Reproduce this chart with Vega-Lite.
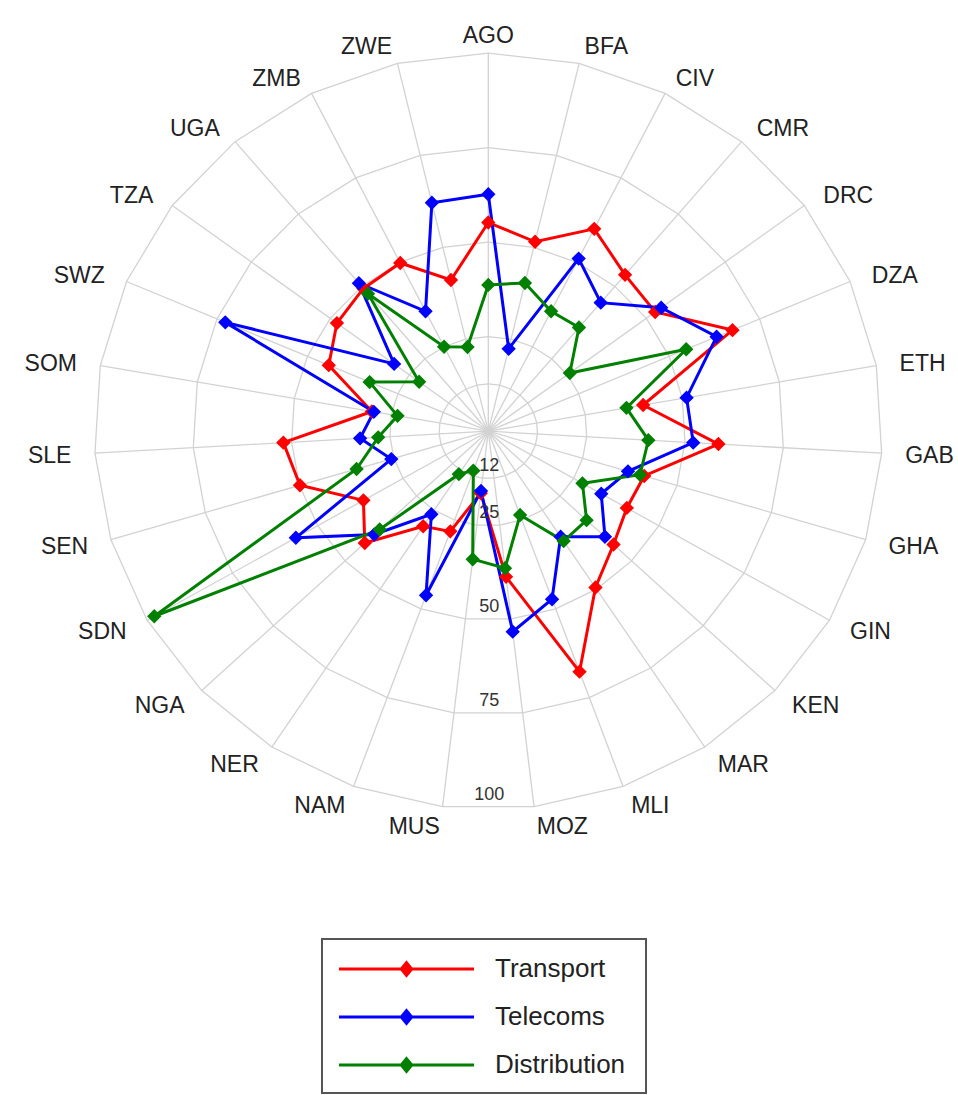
{
  "$schema": "https://vega.github.io/schema/vega-lite/v6.json",
  "width": 958,
  "height": 1095,
  "autosize": {"type": "none"},
  "padding": 0,
  "background": "white",
  "config": {"view": {"stroke": null}, "font": "Liberation Sans"},
  "datasets": {
    "ctry": [
      {"c": "AGO", "Transport": 55.2, "Telecoms": 62.7, "Distribution": 38.7},
      {"c": "BFA", "Transport": 51.5, "Telecoms": 22.4, "Distribution": 40.3},
      {"c": "CIV", "Transport": 59.9, "Telecoms": 51.1, "Distribution": 35.5},
      {"c": "CMR", "Transport": 54.0, "Telecoms": 44.4, "Distribution": 35.8},
      {"c": "DRC", "Transport": 52.8, "Telecoms": 54.7, "Distribution": 25.8},
      {"c": "DZA", "Transport": 67.5, "Telecoms": 63.1, "Distribution": 54.7},
      {"c": "ETH", "Transport": 39.9, "Telecoms": 51.1, "Distribution": 35.6},
      {"c": "GAB", "Transport": 58.5, "Telecoms": 52.1, "Distribution": 40.7},
      {"c": "GHA", "Transport": 41.3, "Telecoms": 37.0, "Distribution": 40.2},
      {"c": "GIN", "Transport": 40.6, "Telecoms": 33.1, "Distribution": 27.6},
      {"c": "KEN", "Transport": 43.7, "Telecoms": 40.7, "Distribution": 34.3},
      {"c": "MAR", "Transport": 49.5, "Telecoms": 33.4, "Distribution": 34.8},
      {"c": "MLI", "Transport": 67.7, "Telecoms": 47.3, "Distribution": 23.6},
      {"c": "MOZ", "Transport": 38.8, "Telecoms": 53.4, "Distribution": 36.5},
      {"c": "MUS", "Transport": 16.5, "Telecoms": 15.9, "Distribution": 34.1},
      {"c": "NAM", "Transport": 28.2, "Telecoms": 46.2, "Distribution": 11.1},
      {"c": "NER", "Transport": 30.1, "Telecoms": 26.3, "Distribution": 13.6},
      {"c": "NGA", "Transport": 43.1, "Telecoms": 39.8, "Distribution": 37.9},
      {"c": "SDN", "Transport": 36.6, "Telecoms": 56.4, "Distribution": 97.9},
      {"c": "SEN", "Transport": 49.9, "Telecoms": 25.7, "Distribution": 34.9},
      {"c": "SLE", "Transport": 52.1, "Telecoms": 32.6, "Distribution": 28.0},
      {"c": "SOM", "Transport": 30.0, "Telecoms": 29.5, "Distribution": 23.4},
      {"c": "SWZ", "Transport": 44.1, "Telecoms": 72.7, "Distribution": 32.8},
      {"c": "TZA", "Transport": 47.9, "Telecoms": 29.8, "Distribution": 21.9},
      {"c": "UGA", "Transport": 49.3, "Telecoms": 51.1, "Distribution": 47.5},
      {"c": "ZMB", "Transport": 49.8, "Telecoms": 35.5, "Distribution": 25.0},
      {"c": "ZWE", "Transport": 41.1, "Telecoms": 62.1, "Distribution": 22.9}
    ],
    "rings": [
      {"r": 12.5, "t": "12"},
      {"r": 25, "t": "25"},
      {"r": 50, "t": "50"},
      {"r": 75, "t": "75"},
      {"r": 100, "t": "100"}
    ]
  },
  "layer": [
    {
      "data": {"name": "ctry"},
      "transform": [
        {"window": [{"op": "row_number", "as": "n"}]},
        {"calculate": "(datum.n - 1) * 2 * PI / 27", "as": "a"},
        {"calculate": "[12.5, 25, 50, 75, 100]", "as": "rr"},
        {"flatten": ["rr"]},
        {"calculate": "datum.rr * sin(datum.a)", "as": "gx"},
        {"calculate": "datum.rr * cos(datum.a)", "as": "gy"}
      ],
      "mark": {"type": "line", "interpolate": "linear-closed", "color": "#d2d2d2", "strokeWidth": 1.3},
      "encoding": {
        "x": {"field": "gx", "type": "quantitative", "scale": {"domain": [-123.934, 119.213], "nice": false, "zero": false}, "axis": null},
        "y": {"field": "gy", "type": "quantitative", "scale": {"domain": [-175.608, 114.074], "nice": false, "zero": false}, "axis": null},
        "detail": {"field": "rr", "type": "nominal"},
        "order": {"field": "n", "type": "quantitative"}
      }
    },
    {
      "data": {"name": "ctry"},
      "transform": [
        {"window": [{"op": "row_number", "as": "n"}]},
        {"calculate": "(datum.n - 1) * 2 * PI / 27", "as": "a"},
        {"calculate": "100 * sin(datum.a)", "as": "ex"},
        {"calculate": "100 * cos(datum.a)", "as": "ey"}
      ],
      "mark": {"type": "rule", "color": "#d2d2d2", "strokeWidth": 1.3},
      "encoding": {
        "x": {"field": "ex", "type": "quantitative"},
        "y": {"field": "ey", "type": "quantitative"},
        "x2": {"datum": 0},
        "y2": {"datum": 0}
      }
    },
    {
      "data": {"name": "ctry"},
      "transform": [
        {"window": [{"op": "row_number", "as": "n"}]},
        {"calculate": "(datum.n - 1) * 2 * PI / 27", "as": "a"},
        {"fold": ["Transport", "Telecoms", "Distribution"], "as": ["s", "v"]},
        {"calculate": "datum.v * sin(datum.a)", "as": "px"},
        {"calculate": "datum.v * cos(datum.a)", "as": "py"}
      ],
      "layer": [
        {
          "mark": {"type": "line", "interpolate": "linear-closed", "strokeWidth": 3},
          "encoding": {
            "x": {"field": "px", "type": "quantitative"},
            "y": {"field": "py", "type": "quantitative"},
            "order": {"field": "n", "type": "quantitative"},
            "color": {
              "field": "s", "type": "nominal",
              "scale": {"domain": ["Transport", "Telecoms", "Distribution"], "range": ["#ff0000", "#0000ff", "#008000"]},
              "legend": {
                "orient": "none", "legendX": 322, "legendY": 939,
                "title": "\u00a0", "titleOrient": "right", "titlePadding": 6, "titleFontSize": 2,
                "symbolType": "M-5,0L5,0M0,-0.47L0.385,0L0,0.47L-0.385,0Z",
                "symbolSize": 729, "symbolStrokeWidth": 3, "symbolOffset": 54.5,
                "labelOffset": 73.5, "labelFontSize": 26, "labelFont": "Liberation Sans", "labelColor": "#222",
                "padding": 15, "rowPadding": 20, "strokeColor": "#555", "fillColor": "white",
                "encode": {
                  "symbols": {"update": {"fill": {"scale": "color", "field": "value"}, "stroke": {"scale": "color", "field": "value"}, "strokeWidth": {"value": 3}, "opacity": {"value": 1}}},
                  "legend": {"update": {"strokeWidth": {"value": 2}}}
                }
              }
            }
          }
        },
        {
          "mark": {"type": "point", "shape": "diamond", "filled": true, "size": 150, "strokeWidth": 1.5, "opacity": 1},
          "encoding": {
            "x": {"field": "px", "type": "quantitative"},
            "y": {"field": "py", "type": "quantitative"},
            "color": {"field": "s", "type": "nominal"},
            "stroke": {"field": "s", "type": "nominal", "scale": {"domain": ["Transport", "Telecoms", "Distribution"], "range": ["#ff0000", "#0000ff", "#008000"]}, "legend": null}
          }
        }
      ]
    },
    {
      "data": {"name": "ctry"},
      "transform": [
        {"window": [{"op": "row_number", "as": "n"}]},
        {"calculate": "(datum.n - 1) * 2 * PI / 27", "as": "a"},
        {"calculate": "106 * sin(datum.a)", "as": "lx"},
        {"calculate": "105 * cos(datum.a)", "as": "ly"}
      ],
      "encoding": {
        "x": {"field": "lx", "type": "quantitative"},
        "y": {"field": "ly", "type": "quantitative"},
        "text": {"field": "c", "type": "nominal"}
      },
      "layer": [
        {"transform": [{"filter": "datum.n == 1"}], "mark": {"type": "text", "align": "center", "baseline": "middle", "dy": 2, "fontSize": 23, "color": "#222"}},
        {"transform": [{"filter": "datum.n >= 2 && datum.n <= 14"}], "mark": {"type": "text", "align": "left", "baseline": "middle", "dy": 2, "fontSize": 23, "color": "#222"}},
        {"transform": [{"filter": "datum.n >= 15"}], "mark": {"type": "text", "align": "right", "baseline": "middle", "dy": 2, "fontSize": 23, "color": "#222"}}
      ]
    },
    {
      "data": {"name": "rings"},
      "transform": [
        {"calculate": "-datum.r * cos(PI / 27)", "as": "ty"}
      ],
      "mark": {"type": "text", "align": "center", "baseline": "middle", "dx": 1, "dy": -12, "fontSize": 18, "color": "#333"},
      "encoding": {
        "x": {"datum": 0},
        "y": {"field": "ty", "type": "quantitative"},
        "text": {"field": "t", "type": "nominal"}
      }
    }
  ]
}
